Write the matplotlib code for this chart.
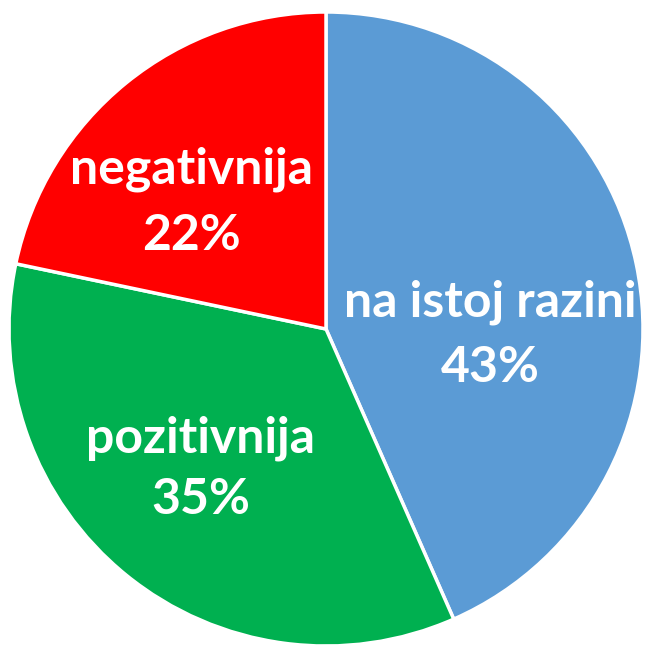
import matplotlib
matplotlib.use("Agg")
import matplotlib.pyplot as plt

categories = ["na istoj razini", "pozitivnija", "negativnija"]
values = [43.4, 34.9, 21.7]          # slice shares (labels show rounded %)
colors = ["#5B9BD5", "#00B050", "#FF0000"]
# label anchor: x center, baseline of name line, baseline of percent line (in radius units)
label_pos = [(0.519, 0.038, -0.167), (-0.396, -0.390, -0.585), (-0.425, 0.459, 0.249)]

W, H = 646, 647
fig = plt.figure(figsize=(W / 100, H / 100), dpi=100)
cx, cy, r = 326, 329, 317
ax = fig.add_axes([(cx - r) / W, (H - cy - r) / H, 2 * r / W, 2 * r / H])
wedges, _ = ax.pie(values, colors=colors, startangle=90, counterclock=False,
                   wedgeprops=dict(edgecolor="white", linewidth=2.5))
ax.set_xlim(-1, 1)
ax.set_ylim(-1, 1)
ax.set_aspect("auto")
ax.axis("off")

style = dict(ha="center", va="baseline", color="white", fontsize=36,
             fontweight="bold", family="Lato")
for cat, v, (x, y1, y2) in zip(categories, values, label_pos):
    ax.text(x, y1, cat, **style)
    ax.text(x, y2, f"{round(v)}%", **style)

fig.savefig("out.png", dpi=100)
